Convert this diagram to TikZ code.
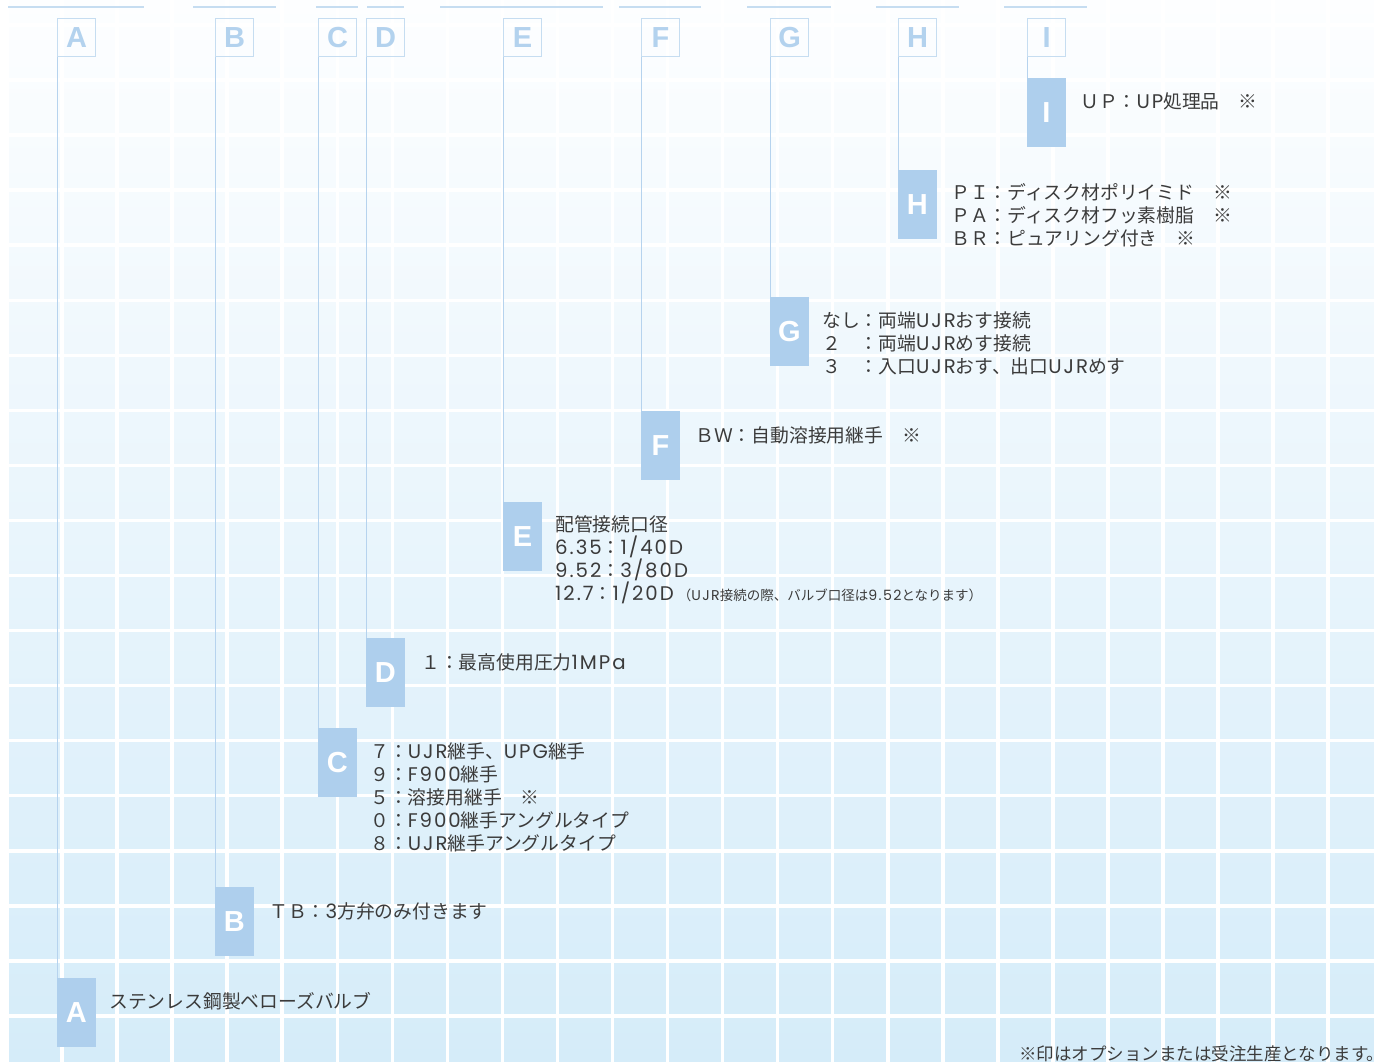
\documentclass[tikz,border=0pt]{standalone}
\usepackage{fontspec}
\setmainfont{Noto Sans CJK JP}
\newfontfamily\latf{Poppins}[Scale=1.05, LetterSpace=10]
\newfontfamily\lblf{Liberation Sans}
\newcommand\lt[1]{{\latf #1}}
\definecolor{txt}{HTML}{3B3B3B}
\definecolor{boxfill}{HTML}{AECFED}
\definecolor{hdrtxt}{HTML}{B3D2EE}
\definecolor{hdrline}{HTML}{C6DDF1}
\definecolor{connc}{HTML}{B6D3EE}
\definecolor{bgtop}{HTML}{FDFEFF}
\definecolor{bgmid}{HTML}{E8F4FB}
\definecolor{bgbot}{HTML}{D5ECF9}
\tikzset{
  hbox/.style={draw=hdrline, line width=1.2pt, minimum width=38pt, minimum height=38pt,
    inner sep=0pt, anchor=north west, text=hdrtxt,
    font=\lblf\bfseries\fontsize{29}{29}\selectfont},
  lblbox/.style={fill=boxfill, minimum width=38.5pt, minimum height=69pt, inner sep=0pt,
    anchor=north west, text=white, font=\lblf\bfseries\fontsize{29}{29}\selectfont},
  connline/.style={draw=connc, line width=1pt},
  topline/.style={draw=hdrline, line width=2pt},
  gridl/.style={draw=white, line width=3.5pt},
  desc/.style={anchor=base west, align=left, inner sep=0pt, text=txt,
    font=\fontsize{18.8}{23}\selectfont},
}
\begin{document}
\begin{tikzpicture}[x=1pt,y=-1pt]
\useasboundingbox (0,0) rectangle (1374,1062);
\clip (0,0) rectangle (1374,1062);
\fill[white] (0,0) rectangle (1374,1062);
\shade[top color=bgtop, middle color=bgmid, bottom color=bgbot] (9,0) rectangle (1374,1062);
% grid
\foreach \k in {0,...,18} \draw[gridl] (9,{25+55.05*\k}) -- (1374,{25+55.05*\k});
\foreach \k in {0,...,23} \draw[gridl] ({62+55.05*\k},0) -- ({62+55.05*\k},1062);
% top lines
\draw[topline] (8,7) -- (144,7);
\draw[topline] (193,7) -- (276,7);
\draw[topline] (316,7) -- (358,7);
\draw[topline] (367,7) -- (404,7);
\draw[topline] (440,7) -- (603,7);
\draw[topline] (619,7) -- (701,7);
\draw[topline] (747,7) -- (831,7);
\draw[topline] (876,7) -- (959,7);
\draw[topline] (1004,7) -- (1087,7);
% header boxes
\node[hbox] (hA) at (57,18) {A};
\node[hbox] (hB) at (215,18) {B};
\node[hbox] (hC) at (318,18) {C};
\node[hbox] (hD) at (366,18) {D};
\node[hbox] (hE) at (503,18) {E};
\node[hbox] (hF) at (641,18) {F};
\node[hbox] (hG) at (770,18) {G};
\node[hbox] (hH) at (898,18) {H};
\node[hbox] (hI) at (1027,18) {I};
% label boxes
\node[lblbox] (bA) at (57,978) {A};
\node[lblbox] (bB) at (215,887) {B};
\node[lblbox] (bC) at (318,728) {C};
\node[lblbox] (bD) at (366,638) {D};
\node[lblbox] (bE) at (503,502) {E};
\node[lblbox] (bF) at (641,411) {F};
\node[lblbox] (bG) at (770,297) {G};
\node[lblbox] (bH) at (898,170) {H};
\node[lblbox] (bI) at (1027,78) {I};
% connectors
\foreach \n in {A,B,C,D,E,F,G,H,I}
  \draw[connline] (h\n.south west) -- (b\n.north west);
% descriptions (base anchor = baseline of the last line)
\node[desc] (tA) at (109,1008) {ステンレス鋼製ベローズバルブ};
\node[desc] (tB) at (269,918) {ＴＢ：\lt{3}方弁のみ付きます};
\node[desc] (tC) at (370,850) {７：\lt{UJR}継手、\lt{UPG}継手\\９：\lt{F900}継手\\５：溶接用継手　※\\０：\lt{F900}継手アングルタイプ\\８：\lt{UJR}継手アングルタイプ};
\node[desc] (tD) at (421,669) {１：最高使用圧力\lt{1MPa}};
\node[desc] (tE) at (555,600) {配管接続口径\\\lt{6.35}：\lt{1/40D}\\\lt{9.52}：\lt{3/80D}\\\lt{12.7}：\lt{1/20D}\hspace{4pt}{\fontsize{13.5}{13.5}\selectfont（\lt{UJR}接続の際、バルブ口径は\lt{9.52}となります）}};
\node[desc] (tF) at (695,442) {ＢＷ：自動溶接用継手　※};
\node[desc] (tG) at (822,373) {なし：両端\lt{UJR}おす接続\\２　：両端\lt{UJR}めす接続\\３　：入口\lt{UJR}おす、出口\lt{UJR}めす};
\node[desc] (tH) at (951,245) {ＰＩ：ディスク材ポリイミド　※\\ＰＡ：ディスク材フッ素樹脂　※\\ＢＲ：ピュアリング付き　※};
\node[desc] (tI) at (1080,109) {ＵＰ：\lt{UP}処理品　※};
\node[desc, font=\fontsize{17.5}{20}\selectfont] (foot) at (1019,1060) {※印はオプションまたは受注生産となります。};
\end{tikzpicture}
\end{document}
